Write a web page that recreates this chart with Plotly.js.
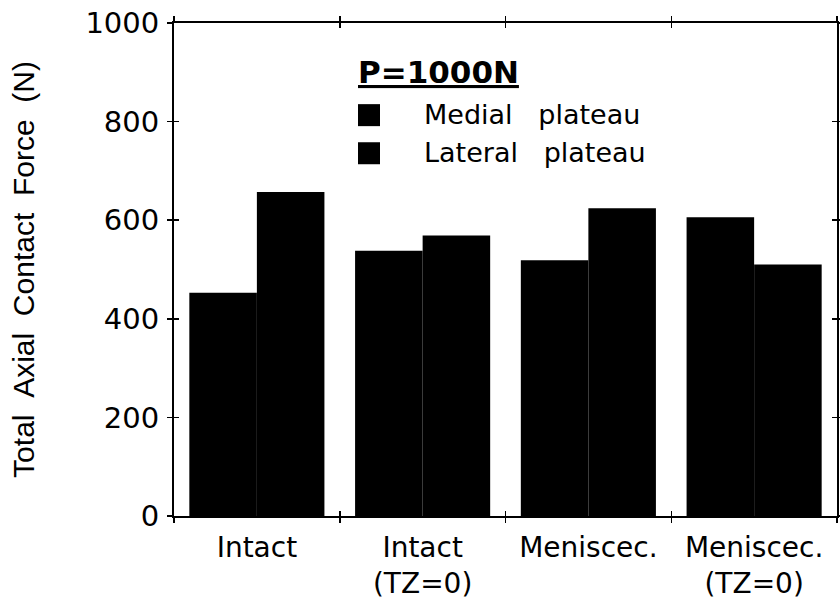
<!DOCTYPE html>
<html>
<head>
<meta charset="utf-8">
<script src="https://cdn.plot.ly/plotly-3.0.1.min.js"></script>
<style>html,body{margin:0;padding:0;background:#fff;}#chart{width:840px;height:603px;}</style>
</head>
<body>
<div id="chart"></div>
<script>
const categories = ["Intact", "Intact<br>(TZ=0)", "Meniscec.", "Meniscec.<br>(TZ=0)"];
const medialPlateau = [453, 538, 519, 606];
const lateralPlateau = [657, 569, 624, 510];
const seriesNames = ["Medial\u00a0\u00a0\u00a0plateau", "Lateral\u00a0\u00a0\u00a0plateau"];
const loadLabel = "<b><u>P=1000N</u></b>";
const yTitle = "Total\u00a0\u00a0Axial\u00a0\u00a0Contact\u00a0\u00a0Force\u00a0\u00a0(N)";
const yTicks = [0, 200, 400, 600, 800, 1000];

const FONT = "DejaVu Sans, Liberation Sans, Arial, sans-serif";
const HELV = "Liberation Sans, Arial, Helvetica, sans-serif";

const traces = [
  {type: "bar", name: seriesNames[0], x: categories, y: medialPlateau,
   marker: {color: "#000", line: {width: 0}}, hoverinfo: "skip"},
  {type: "bar", name: seriesNames[1], x: categories, y: lateralPlateau,
   marker: {color: "#000", line: {width: 0}}, hoverinfo: "skip"},
  {type: "scatter", x: [], y: [], xaxis: "x2", yaxis: "y2", showlegend: false, hoverinfo: "skip"}
];

const layout = {
  width: 840, height: 603,
  paper_bgcolor: "#fff", plot_bgcolor: "#fff",
  margin: {l: 174, r: 3, t: 23, b: 87},
  barmode: "group", bargap: 0.185, bargroupgap: 0,
  showlegend: true,
  legend: {
    x: 0.2715, y: 0.866, xanchor: "left", yanchor: "top",
    bgcolor: "rgba(0,0,0,0)", borderwidth: 0,
    font: {family: FONT, size: 27, color: "#000"},
    itemwidth: 60, traceorder: "normal", itemclick: false
  },
  annotations: [{
    text: loadLabel, xref: "paper", yref: "paper",
    x: 0.274, y: 0.9006, xanchor: "left", yanchor: "middle",
    showarrow: false, font: {family: FONT, size: 31, color: "#000"}
  }],
  xaxis: {
    type: "category", range: [-0.5, 3.5], fixedrange: true,
    tickson: "boundaries", ticks: "outside", ticklen: 5, tickwidth: 1.5, tickcolor: "#000",
    showline: true, linecolor: "#000", linewidth: 2, mirror: "ticks",
    showgrid: false, zeroline: false,
    ticklabelstandoff: 5,
    tickfont: {family: FONT, size: 28, color: "#000"}
  },
  yaxis: {
    range: [0, 1000], fixedrange: true,
    tickmode: "array", tickvals: yTicks, ticktext: yTicks.map(String),
    ticks: "outside", ticklen: 5, tickwidth: 1.5, tickcolor: "#000",
    showline: true, linecolor: "#000", linewidth: 2, mirror: "ticks",
    showgrid: false, zeroline: false,
    tickfont: {family: FONT, size: 29, color: "#000"},
    ticklabelstandoff: 2,
    title: {text: yTitle, font: {family: HELV, size: 30, color: "#000"}, standoff: 42}
  },
  xaxis2: {
    overlaying: "x", range: [0, 4], tick0: 0, dtick: 1, fixedrange: true,
    ticks: "inside", ticklen: 5, tickwidth: 1.5, tickcolor: "#000", mirror: "ticks",
    showticklabels: false, showgrid: false, zeroline: false, showline: false
  },
  yaxis2: {
    overlaying: "y", range: [0, 1000], tick0: 0, dtick: 200, fixedrange: true,
    ticks: "inside", ticklen: 5, tickwidth: 1.5, tickcolor: "#000", mirror: "ticks",
    showticklabels: false, showgrid: false, zeroline: false, showline: false
  }
};

Plotly.newPlot("chart", traces, layout, {displayModeBar: false, staticPlot: true}).then(function () {
  // enlarge legend swatches to square boxes aligned under the load label
  const ann = document.querySelector("#chart .annotation-text");
  const annLeft = ann ? ann.getBoundingClientRect().left : null;
  document.querySelectorAll("#chart .legend .traces").forEach(function (tr) {
    const p = tr.querySelector(".legendpoints path");
    const t = tr.querySelector("text.legendtext");
    if (!p || !t) return;
    const tb = t.getBoundingClientRect();
    const pb = p.getBoundingClientRect();
    const left = annLeft !== null ? annLeft : pb.left;
    const cy = tb.top + tb.height / 2 + 1;
    p.removeAttribute("transform");
    const inv = p.getScreenCTM().inverse();
    const svg = p.ownerSVGElement;
    const pt = svg.createSVGPoint();
    pt.x = left; pt.y = cy;
    const loc = pt.matrixTransform(inv);
    const s = 22;
    p.setAttribute("d", "M" + loc.x + "," + (loc.y - s / 2) + "h" + s + "v" + s + "h" + (-s) + "Z");
  });
});
</script>
</body>
</html>
